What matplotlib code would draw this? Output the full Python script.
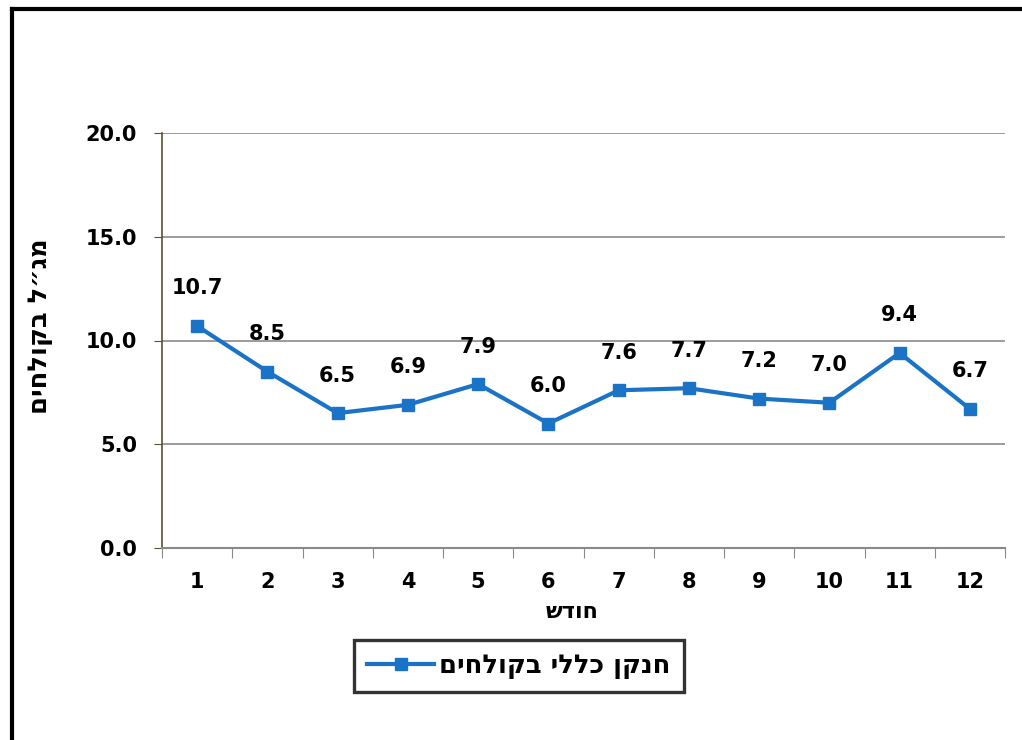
import matplotlib
matplotlib.use("Agg")
import matplotlib.pyplot as plt
from matplotlib.lines import Line2D
import numpy as np

months = [1, 2, 3, 4, 5, 6, 7, 8, 9, 10, 11, 12]
nitrogen = [10.7, 8.5, 6.5, 6.9, 7.9, 6.0, 7.6, 7.7, 7.2, 7.0, 9.4, 6.7]
yticks = [0.0, 5.0, 10.0, 15.0, 20.0]
series_name = "חנקן כללי בקולחים"
y_title = "מג״ל בקולחים"
x_title = "חודש"

def vis(s):
    # visual order for right-to-left text
    return s[::-1]

plt.rcParams['font.family'] = ['DejaVu Sans']
fig = plt.figure(figsize=(10.22, 7.40), dpi=100)
ax = fig.add_axes([162/1022, 1-548/740, (1005-162)/1022, (548-133)/740])

blue = '#1a73c6'
ax.plot(months, nitrogen, color=blue, lw=3, marker='s', ms=8, zorder=3)
for m, v in zip(months, nitrogen):
    ax.annotate(f"{v:.1f}", (m, v), xytext=(0, 27), textcoords='offset points',
                ha='center', va='center', fontsize=15, fontweight='bold')

ax.set_xlim(0.5, 12.5)
ax.set_ylim(0, 20)
ax.set_yticks(yticks)
ax.set_yticklabels([f"{t:.1f}" for t in yticks], fontsize=15, fontweight='bold')
ax.set_xticks(np.arange(0.5, 13.0, 1.0))
ax.set_xticklabels([])
ax.set_xticks(months, minor=True)
ax.set_xticklabels([str(m) for m in months], minor=True, fontsize=15, fontweight='bold')
ax.tick_params(axis='x', which='major', length=7, color='#888888', direction='out')
ax.tick_params(axis='x', which='minor', length=0, pad=17)
ax.tick_params(axis='y', length=6, color='#5a5030', pad=12)

ax.grid(axis='y', color='#8a8a8a', lw=1.2)
for s in ['top', 'right']:
    ax.spines[s].set_visible(False)
ax.spines['left'].set_color('#5a5030')
ax.spines['left'].set_linewidth(1.2)
ax.spines['bottom'].set_color('#8a8a8a')
ax.spines['bottom'].set_linewidth(1.5)

fig.text(40/1022, 1-326/740, vis(y_title), rotation=90, ha='center', va='center',
         fontsize=18.5, fontweight='bold')
fig.text(572/1022, 1-612/740, vis(x_title), ha='center', va='center',
         fontsize=16, fontweight='bold')

handle = Line2D([], [], color=blue, lw=3, marker='s', ms=8)
leg = fig.legend([handle], [vis(series_name)], loc='center',
                 bbox_to_anchor=(519/1022, 1-666/740), frameon=True, fancybox=False,
                 edgecolor='black', prop={'size': 18.5, 'weight': 'bold'},
                 handlelength=2.6, handletextpad=0.2, borderpad=0.5)
leg.get_frame().set_linewidth(2.4)

# outer frame
fig.add_artist(Line2D([12/1022, 12/1022], [0, 1-9/740], color='black', lw=3,
                      transform=fig.transFigure))
fig.add_artist(Line2D([12/1022, 1], [1-9/740, 1-9/740], color='black', lw=3,
                      transform=fig.transFigure))

fig.savefig("out.png", dpi=100)
